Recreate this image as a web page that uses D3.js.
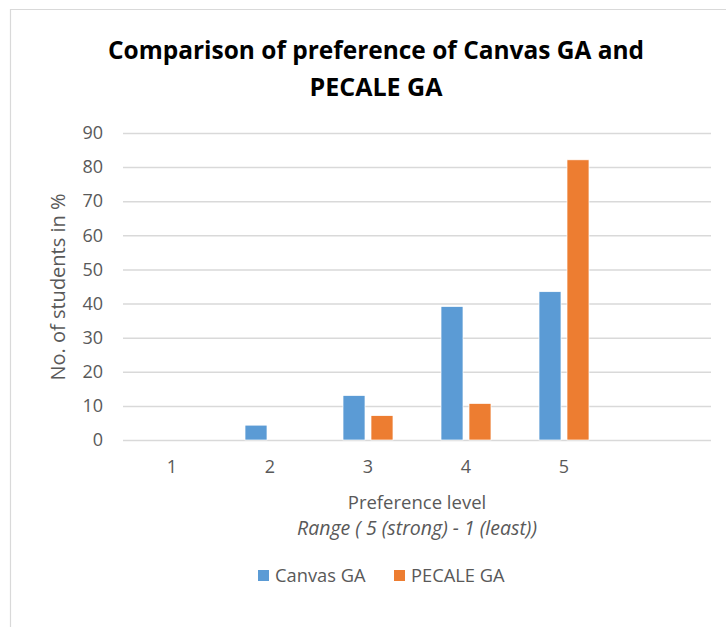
<!DOCTYPE html>
<html>
<head>
<meta charset="utf-8">
<script src="https://cdn.jsdelivr.net/npm/d3@7"></script>
<style>
  body { margin: 0; background: #fff; }
  text { font-family: "Open Sans", sans-serif; }
</style>
</head>
<body>
<svg id="chart" width="726" height="627"></svg>
<script>
// preference levels (last slot is empty in the original sheet)
var categories = ["1", "2", "3", "4", "5", ""]
var seriesNames = ["Canvas GA", "PECALE GA"]
var canvasGA = [0, 4.35, 13.04, 39.13, 43.48, null]
var pecaleGA = [0, 0, 7.14, 10.71, 82.14, null]
var yTicks = [0, 10, 20, 30, 40, 50, 60, 70, 80, 90]

var colors = ["#5B9BD5", "#ED7D31"]
var textColor = "#595959"
var width = 726
var height = 627
var margin = ({top: 133, right: 15, bottom: 187, left: 123})

var data = categories.map((c, i) => ({cat: c, values: [canvasGA[i], pecaleGA[i]]}))

var x0 = d3.scaleBand()
  .domain(categories)
  .range([margin.left, width - margin.right])
  .padding(0)

var groupW = x0.bandwidth() * 0.51
var x1 = d3.scaleBand()
  .domain(seriesNames)
  .range([(x0.bandwidth() - groupW) / 2, (x0.bandwidth() + groupW) / 2])
  .paddingInner(0.2143)

var y = d3.scaleLinear()
  .domain([0, 90])
  .range([height - margin.bottom, margin.top])

const svg = d3.select("#chart")

// chart frame (continues past the right/bottom edge)
svg.append("path")
  .attr("d", "M10.5,627 V9.5 H726")
  .attr("fill", "none")
  .attr("stroke", "#d9d9d9")
  .attr("stroke-width", 1.2)

// title
var titleLines = ["Comparison of preference of Canvas GA and", "PECALE GA"]
var titleWidths = [536, 133]
svg.append("g")
  .attr("font-weight", "bold")
  .attr("font-size", 25)
  .attr("fill", "#000")
  .attr("text-anchor", "middle")
  .selectAll("text")
  .data(titleLines)
  .join("text")
    .attr("x", 376)
    .attr("y", (d, i) => 59 + i * 37)
    .attr("textLength", (d, i) => titleWidths[i])
    .attr("lengthAdjust", "spacingAndGlyphs")
    .text(d => d)

// gridlines
svg.append("g")
  .attr("transform", `translate(${margin.left},0)`)
  .call(d3.axisLeft(y).tickValues(yTicks).tickSize(-(width - margin.right - margin.left)).tickFormat(""))
  .call(g => g.select(".domain").remove())
  .call(g => g.selectAll("line").attr("stroke", "#d9d9d9").attr("stroke-width", 1.5))

// y axis labels
svg.append("g")
  .attr("transform", `translate(${margin.left - 8},0)`)
  .call(d3.axisLeft(y).tickValues(yTicks).tickSize(0).tickPadding(12))
  .call(g => g.select(".domain").remove())
  .call(g => g.selectAll("text").attr("fill", textColor).attr("font-size", 18).attr("font-family", "Open Sans"))

// x axis labels
svg.append("g")
  .attr("transform", `translate(0,${height - margin.bottom})`)
  .call(d3.axisBottom(x0).tickSize(0).tickPadding(20))
  .call(g => g.select(".domain").remove())
  .call(g => g.selectAll("text").attr("fill", textColor).attr("font-size", 18).attr("font-family", "Open Sans"))

// bars
svg.append("g")
  .selectAll("g")
  .data(data)
  .join("g")
    .attr("transform", d => `translate(${x0(d.cat)},0)`)
  .selectAll("rect")
  .data(d => d.values.map((v, i) => ({key: seriesNames[i], value: v, i: i})).filter(e => e.value))
  .join("rect")
    .attr("x", d => x1(d.key))
    .attr("y", d => y(d.value))
    .attr("width", x1.bandwidth())
    .attr("height", d => y(0) - y(d.value))
    .attr("fill", d => colors[d.i])
    .attr("stroke", "#fff")
    .attr("stroke-width", 0.7)

// axis titles
var cx = (margin.left + width - margin.right) / 2
svg.append("text")
  .attr("transform", `translate(65,${287}) rotate(-90)`)
  .attr("text-anchor", "middle")
  .attr("font-size", 20)
  .attr("fill", textColor)
  .text("No. of students in %")

svg.append("text")
  .attr("x", cx)
  .attr("y", 508.5)
  .attr("text-anchor", "middle")
  .attr("font-size", 18.5)
  .attr("fill", textColor)
  .text("Preference level")

svg.append("text")
  .attr("x", cx)
  .attr("y", 535)
  .attr("text-anchor", "middle")
  .attr("font-size", 19.5)
  .attr("font-style", "italic")
  .attr("fill", textColor)
  .text("Range ( 5 (strong) - 1 (least))")

// legend
var legendX = [258, 394]
var legend = svg.append("g")
  .selectAll("g")
  .data(seriesNames)
  .join("g")
    .attr("transform", (d, i) => `translate(${legendX[i]},570)`)

legend.append("rect")
  .attr("width", 11)
  .attr("height", 11)
  .attr("fill", (d, i) => colors[i])

legend.append("text")
  .attr("x", 17)
  .attr("y", 12)
  .attr("font-size", 18.3)
  .attr("fill", textColor)
  .text(d => d)
</script>
</body>
</html>
